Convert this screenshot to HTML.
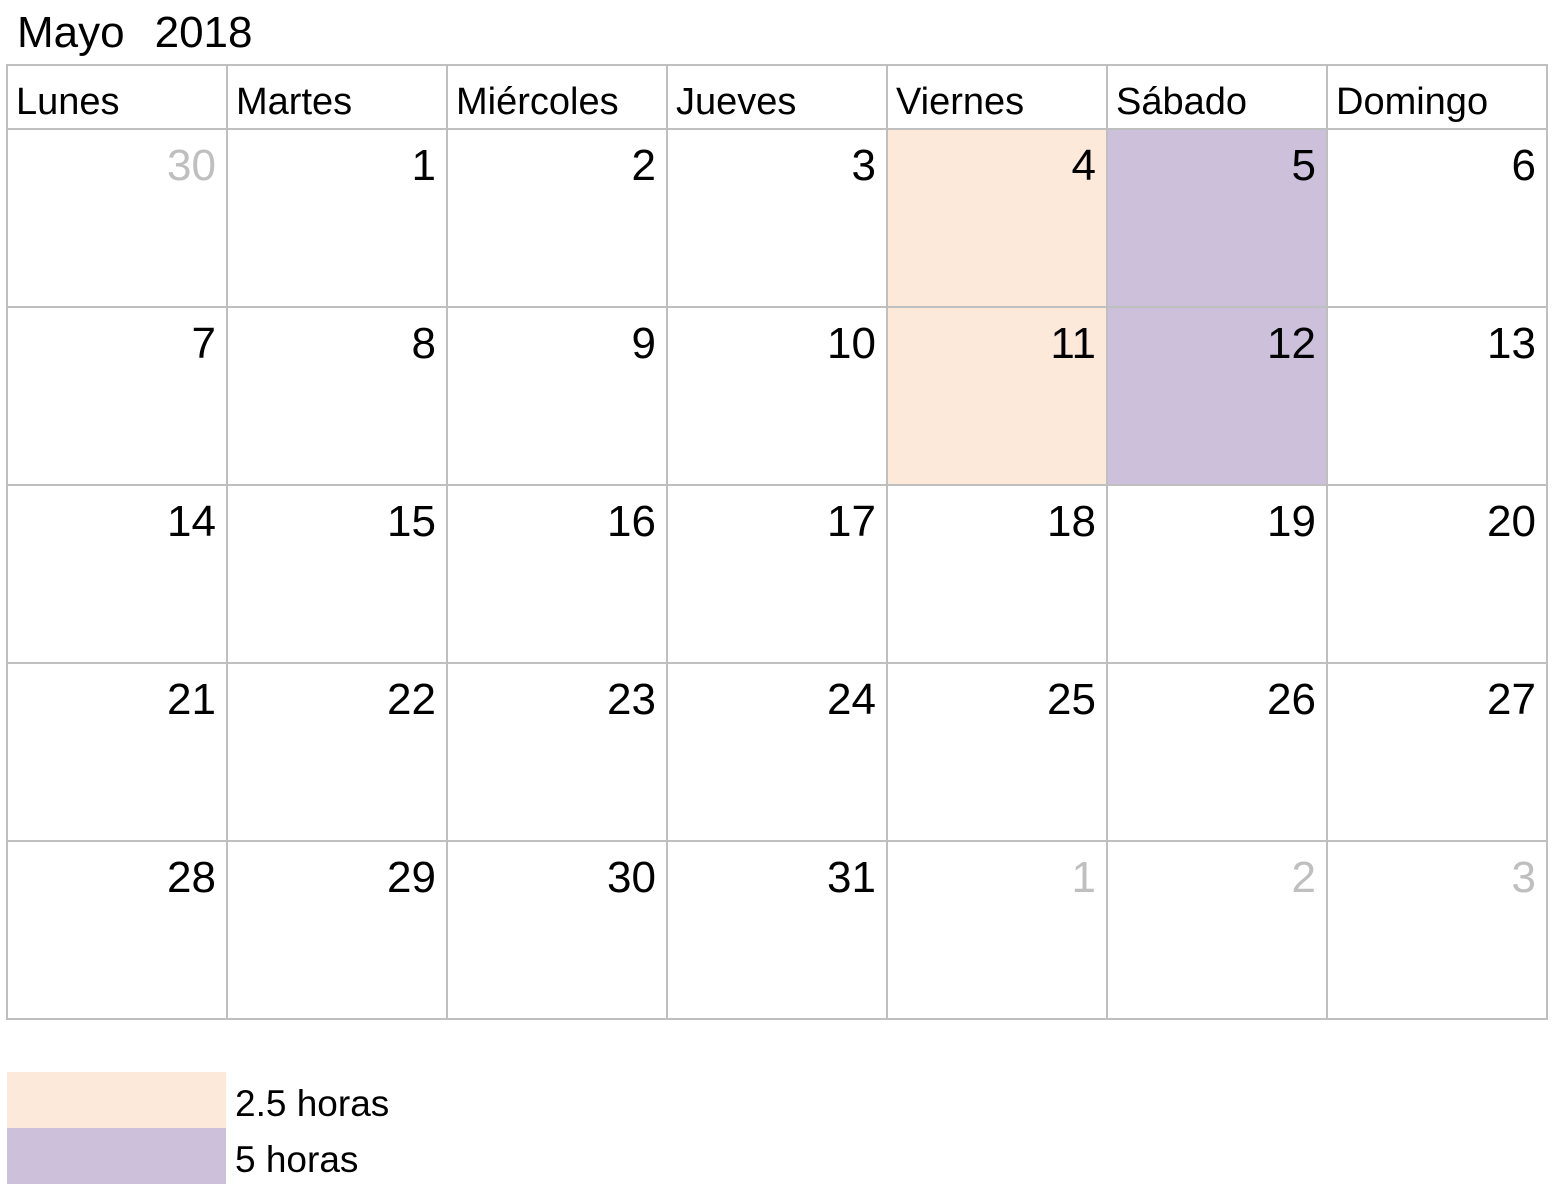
<!DOCTYPE html>
<html><head><meta charset="utf-8">
<style>
html,body{margin:0;padding:0;background:#fff;}
#page{position:relative;width:1558px;height:1198px;overflow:hidden;font-family:"Liberation Sans",sans-serif;color:#000;}
.t{position:absolute;white-space:nowrap;line-height:1;}
.cell{position:absolute;box-sizing:border-box;border:2px solid #BFBFBF;}
</style></head>
<body>
<div id="page">
  <div class="t" style="left:17px;top:11px;font-size:44px;">Mayo<span style="display:inline-block;width:30px"></span><span style="font-weight:300">2018</span></div>
</div>
<script>
const weekdays = ["Lunes","Martes","Miércoles","Jueves","Viernes","Sábado","Domingo"];
const dayNumbers = [30,1,2,3,4,5,6, 7,8,9,10,11,12,13, 14,15,16,17,18,19,20, 21,22,23,24,25,26,27, 28,29,30,31,1,2,3];
const otherMonth = [1,0,0,0,0,0,0, 0,0,0,0,0,0,0, 0,0,0,0,0,0,0, 0,0,0,0,0,0,0, 0,0,0,0,1,1,1];
const cellHours = [0,0,0,0,2.5,5,0, 0,0,0,0,2.5,5,0, 0,0,0,0,0,0,0, 0,0,0,0,0,0,0, 0,0,0,0,0,0,0];
const legendHours = [2.5, 5];
const legendLabels = ["2.5 horas","5 horas"];

const colorFor = h => h === 2.5 ? "#FCE9DA" : (h === 5 ? "#CCC0DA" : "#fff");
const page = document.getElementById('page');
const X0 = 6, COLW = 220, HY = 64, HH = 65, ROWY = 128, ROWH = 178;

weekdays.forEach((w, i) => {
  const c = document.createElement('div');
  c.className = 'cell';
  
  
  c.style.cssText = `left:${X0 + i * COLW}px;top:${HY}px;width:${COLW + 2}px;height:${HH + 2}px;`;
  page.appendChild(c);
  const t = document.createElement('div');
  t.className = 't';
  
  
  t.textContent = w;
  t.style.cssText = `left:${X0 + i * COLW + 10}px;top:${HY + 19}px;font-size:38px;font-weight:300;`;
  page.appendChild(t);
});

dayNumbers.forEach((d, k) => {
  const r = Math.floor(k / 7), col = k % 7;
  const x = X0 + col * COLW, y = ROWY + r * ROWH;
  const c = document.createElement('div');
  c.className = 'cell';
  
  
  c.style.cssText = `left:${x}px;top:${y}px;width:${COLW + 2}px;height:${ROWH + 2}px;background:${colorFor(cellHours[k])};`;
  page.appendChild(c);
  const t = document.createElement('div');
  t.className = 't';
  
  
  t.textContent = d;
  t.style.cssText = `right:${1558 - (x + COLW) + 10}px;top:${y + 16}px;font-size:44px;font-weight:300;color:${otherMonth[k] ? '#BFBFBF' : '#000'};`;
  page.appendChild(t);
});

legendHours.forEach((h, i) => {
  const s = document.createElement('div');
  
  
  s.style.cssText = `position:absolute;left:7px;top:${1072 + i * 56}px;width:219px;height:56px;background:${colorFor(h)};`;
  page.appendChild(s);
  const t = document.createElement('div');
  t.className = 't';
  
  
  t.textContent = legendLabels[i];
  t.style.cssText = `left:235px;top:${1085 + i * 56}px;font-size:37px;font-weight:300;`;
  page.appendChild(t);
});
</script>
</body></html>
